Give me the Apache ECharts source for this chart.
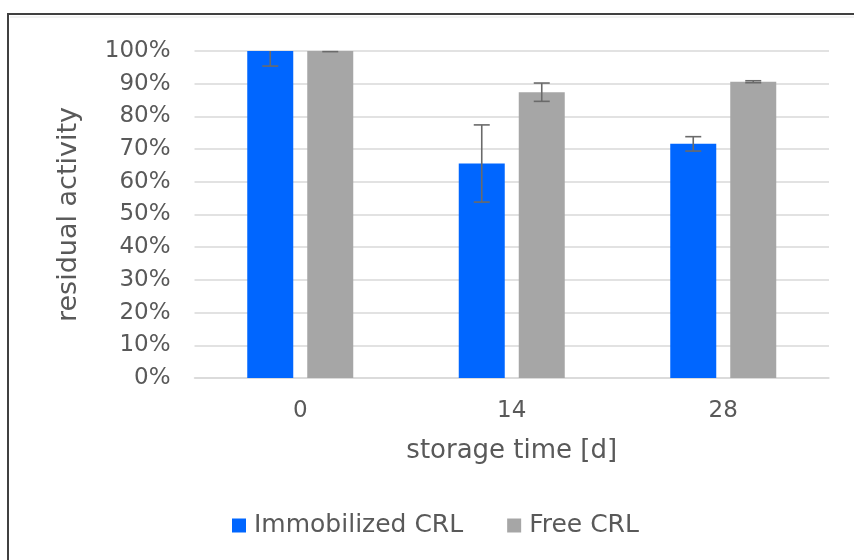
<!DOCTYPE html>
<html>
<head>
<meta charset="utf-8">
<script src="https://cdn.jsdelivr.net/npm/echarts@6/dist/echarts.min.js"></script>
<style>html,body{margin:0;padding:0;background:#fff}#c{width:854px;height:560px}</style>
</head>
<body>
<div id="c"></div>
<script>
const categories = ['0', '14', '28'];
const seriesNames = ['Immobilized CRL', 'Free CRL'];
const immobilized = [100, 65.6, 71.6];
const immobilizedErr = [4.6, 11.8, 2.2];
const free = [100, 87.4, 90.6];
const freeErr = [0.2, 2.8, 0.3];
const yTicks = [0, 10, 20, 30, 40, 50, 60, 70, 80, 90, 100];

const FONT = 'DejaVu Sans';
const TXT = '#595959';
const BAR_W = 46;
const BAR_GAP = 14;
const colors = ['#0066ff', '#a6a6a6'];
const Y_MAX = yTicks[yTicks.length - 1];

function errSeries(vals, errs, idx) {
  const offset = (idx === 0 ? -1 : 1) * (BAR_W + BAR_GAP) / 2;
  return {
    type: 'custom',
    name: seriesNames[idx] + ' err',
    data: vals.map((v, i) => [i, v - errs[i], v + errs[i]]),
    z: 5,
    silent: true,
    renderItem: function (params, api) {
      const loV = api.value(1);
      const hiRaw = api.value(2);
      const clipped = hiRaw > Y_MAX;
      const hiV = clipped ? Y_MAX : hiRaw;
      const lo = api.coord([api.value(0), loV]);
      const hi = api.coord([api.value(0), hiV]);
      const x = lo[0] + offset;
      const cap = 8;
      const st = { stroke: '#6a6a6a', lineWidth: 1.6 };
      const children = [
        { type: 'line', shape: { x1: x, y1: lo[1], x2: x, y2: hi[1] }, style: st },
        { type: 'line', shape: { x1: x - cap, y1: lo[1], x2: x + cap, y2: lo[1] }, style: st }
      ];
      if (!clipped) {
        children.push({ type: 'line', shape: { x1: x - cap, y1: hi[1], x2: x + cap, y2: hi[1] }, style: st });
      }
      return { type: 'group', children: children };
    }
  };
}

const chart = echarts.init(document.getElementById('c'), null, { renderer: 'canvas' });
chart.setOption({
  animation: false,
  backgroundColor: '#ffffff',
  textStyle: { fontFamily: FONT },
  graphic: [
    { type: 'rect', shape: { x: 8, y: 14, width: 900, height: 600 }, style: { fill: 'none', stroke: '#404040', lineWidth: 2 }, z: 100 },
    { type: 'line', shape: { x1: 10, y1: 17, x2: 854, y2: 17 }, style: { stroke: '#e6e6e6', lineWidth: 1 }, z: 100 }
  ],
  grid: { left: 194.5, right: 25, top: 51, bottom: 182, containLabel: false },
  legend: {
    left: 232, top: 513, padding: 0,
    itemWidth: 14, itemHeight: 14, itemGap: 44,
    icon: 'rect',
    data: seriesNames,
    textStyle: { color: TXT, fontSize: 25, fontFamily: FONT, padding: [0, 0, 0, 3] }
  },
  xAxis: {
    type: 'category',
    data: categories,
    axisLine: { lineStyle: { color: '#d9d9d9', width: 1.5 } },
    axisTick: { show: false },
    axisLabel: { color: TXT, fontSize: 23, fontFamily: FONT, margin: 22 },
    name: 'storage time [d]',
    nameLocation: 'middle',
    nameGap: 60,
    nameTextStyle: { color: TXT, fontSize: 26, fontFamily: FONT }
  },
  yAxis: {
    type: 'value',
    min: yTicks[0], max: Y_MAX, interval: 10,
    axisLine: { show: false },
    axisTick: { show: false },
    splitLine: { lineStyle: { color: '#d9d9d9', width: 1.5 } },
    axisLabel: { color: TXT, fontSize: 23, fontFamily: FONT, margin: 24, formatter: '{value}%' },
    name: 'residual activity',
    nameLocation: 'middle',
    nameGap: 112,
    nameTextStyle: { color: TXT, fontSize: 27, fontFamily: FONT }
  },
  series: [
    { type: 'bar', name: seriesNames[0], data: immobilized, barWidth: BAR_W, barGap: (BAR_GAP / BAR_W * 100) + '%', itemStyle: { color: colors[0] } },
    { type: 'bar', name: seriesNames[1], data: free, barWidth: BAR_W, itemStyle: { color: colors[1] } },
    errSeries(immobilized, immobilizedErr, 0),
    errSeries(free, freeErr, 1)
  ]
});
</script>
</body>
</html>
